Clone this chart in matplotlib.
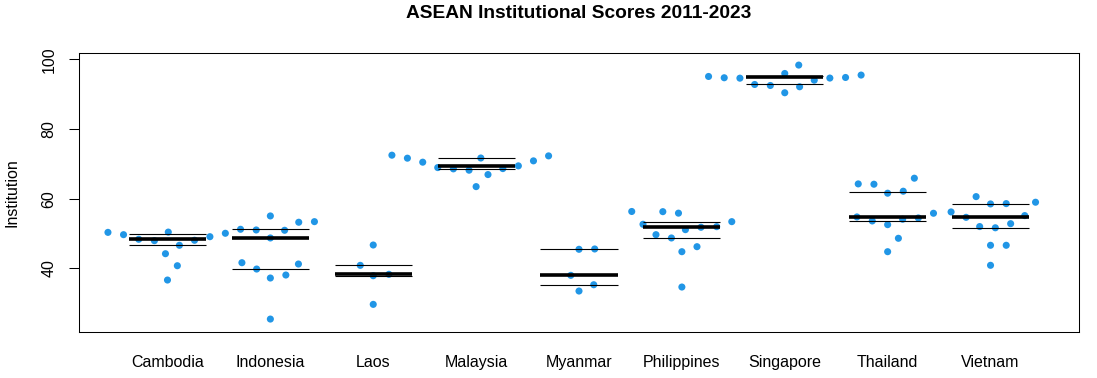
import numpy as np
import matplotlib
matplotlib.use("Agg")
import matplotlib.pyplot as plt

plt.rcParams['font.family'] = ['Liberation Sans', 'DejaVu Sans']

countries = ["Cambodia", "Indonesia", "Laos", "Malaysia", "Myanmar",
             "Philippines", "Singapore", "Thailand", "Vietnam"]

cambodia = [50.33, 49.67, 48.35, 47.95, 50.41, 46.62, 48.06, 49.09, 44.20, 40.75, 36.64, 50.07]
indonesia = [51.22, 51.02, 55.05, 48.72, 50.93, 53.24, 53.41, 41.62, 39.80, 37.22, 38.08, 41.24, 25.43]
laos = [46.70, 40.86, 37.88, 38.28, 29.65]
malaysia = [72.50, 71.64, 70.49, 68.94, 68.57, 68.19, 71.69, 66.93, 63.47, 68.65, 69.43, 70.87, 72.30]
myanmar = [45.47, 45.56, 37.99, 35.29, 33.48]
philippines = [56.33, 52.65, 49.67, 56.28, 48.72, 55.85, 51.11, 44.78, 46.22, 51.80, 51.97, 53.41, 34.63]
singapore = [95.11, 94.74, 94.62, 92.81, 92.52, 95.97, 90.43, 98.38, 92.15, 94.05, 94.65, 94.82, 95.51]
thailand = [64.25, 64.16, 61.58, 62.15, 65.89, 54.76, 53.61, 52.55, 54.10, 54.47, 55.82, 48.63, 44.78]
vietnam = [56.20, 54.65, 60.60, 58.50, 58.59, 58.99, 55.15, 52.00, 51.65, 52.83, 46.62, 46.62, 40.87]

groups = [cambodia, indonesia, laos, malaysia, myanmar, philippines, singapore, thailand, vietnam]

q25 = [46.6, 39.8, 37.88, 68.57, 35.29, 48.72, 92.81, 53.61, 51.6]
q50 = [48.35, 48.72, 38.28, 69.43, 37.99, 51.8, 94.82, 54.76, 54.85]
q75 = [49.96, 51.22, 40.86, 71.64, 45.47, 53.41, 95.11, 61.95, 58.59]

yticks = [40, 60, 80, 100]

W, H, DPI = 1097, 378, 100
fig = plt.figure(figsize=(W / DPI, H / DPI), dpi=DPI)
L, R, T, B = 79, 1079, 53, 331.7
ax = fig.add_axes([L / W, 1 - B / H, (R - L) / W, (B - T) / H])
n = len(countries)
ax.set_xlim(0.5 - 0.04 * n, n + 0.5 + 0.04 * n)
ax.set_ylim(21.8, 101.85)

# swarm layout (R beeswarm "swarm" method, ascending priority)
spacing_x_px = 15.7
spacing_y_px = 18.4
px_per_x = (R - L) / (ax.get_xlim()[1] - ax.get_xlim()[0])
px_per_y = (B - T) / (ax.get_ylim()[1] - ax.get_ylim()[0])
gsize = spacing_x_px / px_per_x
dsize = spacing_y_px / px_per_y


def swarm(vals):
    v = np.asarray(vals, dtype=float) / dsize
    order = np.argsort(v, kind="stable")
    off = np.zeros(len(v))
    placed = []
    for idx in order:
        xi = v[idx]
        pre = [j for j in placed if xi - v[j] < 1]
        if pre:
            pre.sort(key=lambda j: abs(off[j]))
            pox = np.array([off[j] for j in pre])
            pv = np.array([v[j] for j in pre])
            po = np.sqrt(np.clip(1 - (xi - pv) ** 2, 0, None))
            cands = np.concatenate([[0.0], pox + po, pox - po])
            best, bestabs = 0.0, np.inf
            for c in cands:
                bad = np.any((xi - pv) ** 2 + (c - pox) ** 2 < 0.999)
                if not bad and abs(c) < bestabs - 1e-9:
                    best, bestabs = c, abs(c)
            off[idx] = best
        placed.append(idx)
    return off * gsize


for i, vals in enumerate(groups):
    pos = i + 1
    xs = pos + swarm(vals)
    ax.scatter(xs, vals, s=26, color="#2196E6", edgecolors="none", zorder=2)
    hw = 0.375
    ax.plot([pos - hw, pos + hw], [q25[i], q25[i]], color="black", lw=0.8, zorder=3, solid_capstyle="butt")
    ax.plot([pos - hw, pos + hw], [q75[i], q75[i]], color="black", lw=0.8, zorder=3, solid_capstyle="butt")
    ax.plot([pos - hw, pos + hw], [q50[i], q50[i]], color="black", lw=2.6, zorder=3, solid_capstyle="butt")

ax.set_xticks(range(1, n + 1))
ax.set_xticklabels(countries, fontsize=11.5)
ax.tick_params(axis="x", length=0, pad=16.5)
ax.set_yticks(yticks)
ax.set_yticklabels([str(t) for t in yticks], fontsize=11.5, rotation=90, va="center")
ax.tick_params(axis="y", length=7.2, width=0.75, pad=9)
for sp in ax.spines.values():
    sp.set_linewidth(0.75)
    sp.set_color("black")

ax.set_ylabel("Institution", fontsize=11.5, labelpad=16)
fig.text(579 / W, 1 - 14 / H, "ASEAN Institutional Scores 2011-2023", ha="center", va="center",
         fontsize=13.8, fontweight="bold")

fig.savefig("out.png", dpi=DPI)
